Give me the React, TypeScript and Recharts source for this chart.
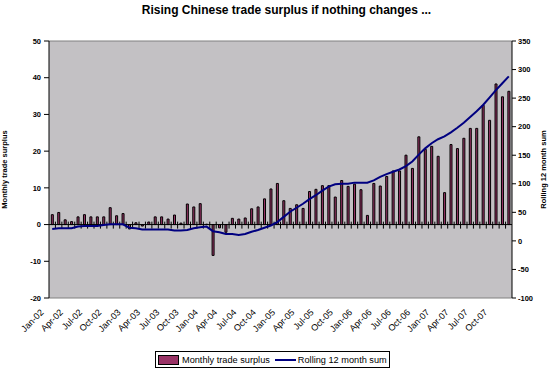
import React from 'react';
import {
  ComposedChart,
  Bar,
  Line,
  XAxis,
  YAxis,
  CartesianGrid,
  ReferenceLine,
} from 'recharts';

document.body.style.margin = '0';

const monthNames = ['Jan', 'Feb', 'Mar', 'Apr', 'May', 'Jun', 'Jul', 'Aug', 'Sep', 'Oct', 'Nov', 'Dec'];
const years = ['02', '03', '04', '05', '06', '07'];

// Monthly trade surplus, USD bn (left axis)
const surplus02 = [2.7, 3.3, 1.3, 0.8, 2.1, 2.7, 2.1, 2.1, 2.1, 4.6, 2.4, 3.0];
const surplus03 = [-1.2, 0.5, -0.4, 0.7, 2.1, 2.1, 1.5, 2.6, 0.4, 5.6, 4.8, 5.7];
const surplus04 = [0.1, -8.4, -0.9, -2.1, 1.7, 1.5, 1.8, 4.3, 4.8, 7.0, 9.7, 11.2];
const surplus05 = [6.5, 4.4, 5.4, 4.4, 9.0, 9.6, 10.6, 10.6, 7.5, 12.0, 10.4, 11.0];
const surplus06 = [9.5, 2.5, 11.2, 10.5, 13.1, 14.6, 14.6, 18.9, 15.3, 23.9, 20.5, 21.3];
const surplus07 = [18.6, 8.7, 21.8, 20.7, 23.5, 26.2, 26.2, 32.5, 28.4, 38.3, 34.8, 36.3];

// Rolling 12 month sum (right axis)
const rolling02 = [21, 22, 22, 22, 25, 26, 26, 26, 28, 29, 29, 29];
const rolling03 = [23, 22, 20, 20, 20, 20, 20, 18, 18, 19, 22, 24];
const rolling04 = [25, 17, 15, 12, 12, 10.5, 12, 16, 19, 23, 27, 33];
const rolling05 = [42, 51, 58, 65, 73, 80, 88, 95, 99, 100, 100, 102];
const rolling06 = [102, 102, 106, 112, 117, 121, 125, 131, 139, 151, 162, 171];
const rolling07 = [178, 183, 190, 198, 207, 217, 227, 238, 251, 264, 276, 288];

const leftTicks = [-20, -10, 0, 10, 20, 30, 40, 50];
const rightTicks = [-100, -50, 0, 50, 100, 150, 200, 250, 300, 350];

const months = years.flatMap((y) => monthNames.map((m) => `${m}-${y}`));
const surplus = [...surplus02, ...surplus03, ...surplus04, ...surplus05, ...surplus06, ...surplus07];
const rolling = [...rolling02, ...rolling03, ...rolling04, ...rolling05, ...rolling06, ...rolling07];

const data = months.map((month, i) => ({ month, surplus: surplus[i], rolling: rolling[i] }));

const FONT = 'Arial, "Liberation Sans", sans-serif';
const BAR_COLOR = '#993366';
const LINE_COLOR = '#000080';

function MonthTick({ x, y, payload }: any) {
  const ax = x - 8;
  const ay = y + 15;
  return (
    <text
      x={ax}
      y={ay}
      transform={`rotate(-45 ${ax} ${ay})`}
      textAnchor="end"
      fontSize={9}
      fontFamily={FONT}
      fill="#000"
    >
      {payload.value}
    </text>
  );
}

const axisTick = { fontSize: 7.5, fontWeight: 700, fontFamily: FONT, fill: '#000' };

export default function App() {
  return (
    <div style={{ position: 'relative', width: 549, height: 370, background: '#fff', fontFamily: FONT }}>
      <div
        style={{
          position: 'absolute',
          top: 3,
          left: 0,
          width: 573,
          textAlign: 'center',
          fontSize: 12,
          fontWeight: 700,
        }}
      >
        Rising Chinese trade surplus if nothing changes ...
      </div>
      <ComposedChart
        width={549}
        height={370}
        data={data}
        margin={{ top: 41, right: 0, bottom: 0, left: 0 }}
        barCategoryGap="36%"
      >
        <CartesianGrid horizontal={false} vertical={false} fill="#c3c1c4" yAxisId="left" />
        <XAxis
          dataKey="month"
          interval={2}
          height={72}
          tickSize={0}
          tickMargin={0}
          axisLine={{ stroke: '#808080' }}
          tickLine={false}
          tick={<MonthTick />}
        />
        <YAxis
          yAxisId="left"
          domain={[-20, 50]}
          ticks={leftTicks}
          width={49}
          tickSize={5}
          tickMargin={3}
          axisLine={{ stroke: '#000' }}
          tickLine={{ stroke: '#000' }}
          tick={axisTick}
          interval={0}
          label={{
            value: 'Monthly trade surplus',
            angle: -90,
            position: 'insideLeft',
            offset: 0,
            dx: 4,
            style: { fontSize: 7.5, fontWeight: 700, fontFamily: FONT, fill: '#000', textAnchor: 'middle' },
          }}
        />
        <YAxis
          yAxisId="right"
          orientation="right"
          domain={[-100, 350]}
          ticks={rightTicks}
          width={37}
          tickSize={4}
          tickMargin={2}
          axisLine={{ stroke: '#000' }}
          tickLine={{ stroke: '#000' }}
          tick={{ ...axisTick, textAnchor: 'start' }}
          interval={0}
          label={{
            value: 'Rolling 12 month sum',
            angle: -90,
            position: 'insideRight',
            offset: 0,
            dx: -6,
            style: { fontSize: 7.5, fontWeight: 700, fontFamily: FONT, fill: '#000', textAnchor: 'middle' },
          }}
        />
        <ReferenceLine yAxisId="left" y={50} stroke="#808080" />
        <ReferenceLine yAxisId="left" y={0} stroke="#000" />
        {months.slice(1).map((m) => (
          <ReferenceLine
            key={m}
            yAxisId="left"
            position="start"
            segment={[
              { x: m, y: -1.1 },
              { x: m, y: 0.8 },
            ]}
            stroke="#000"
          />
        ))}
        <Bar
          yAxisId="left"
          dataKey="surplus"
          fill={BAR_COLOR}
          stroke="#000"
          strokeWidth={1}
          isAnimationActive={false}
        />
        <Line
          yAxisId="right"
          dataKey="rolling"
          type="linear"
          stroke={LINE_COLOR}
          strokeWidth={2}
          dot={false}
          isAnimationActive={false}
        />
      </ComposedChart>
      <div
        style={{
          position: 'absolute',
          left: 155,
          top: 351,
          width: 233,
          height: 15,
          border: '1px solid #000',
          display: 'flex',
          alignItems: 'center',
          fontSize: 9.2,
          whiteSpace: 'nowrap',
        }}
      >
        <span
          style={{
            display: 'inline-block',
            width: 19,
            height: 8,
            marginLeft: 2,
            marginRight: 3,
            background: BAR_COLOR,
            border: '1px solid #000',
          }}
        />
        <span>Monthly trade surplus</span>
        <span
          style={{
            display: 'inline-block',
            width: 21,
            height: 2,
            marginLeft: 5,
            marginRight: 2,
            background: LINE_COLOR,
          }}
        />
        <span>Rolling 12 month sum</span>
      </div>
    </div>
  );
}
